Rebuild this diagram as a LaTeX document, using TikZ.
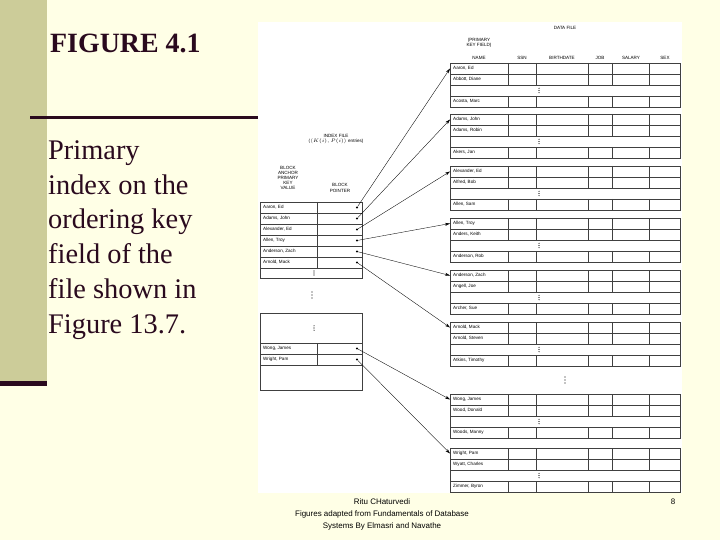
\documentclass[tikz,border=0pt]{standalone}
\usepackage{fontspec}
\setmainfont{Liberation Serif}
\newfontfamily\arial{Liberation Sans}
\usetikzlibrary{arrows.meta}
\definecolor{bgy}{HTML}{FFFFE6}
\definecolor{olive}{HTML}{CCCC99}
\definecolor{ink}{HTML}{2A0A1E}
\tikzset{
 cell/.style={anchor=west,inner sep=0pt,font=\arial\fontsize{4.6}{5}\selectfont},
 hdr/.style={inner sep=0pt,align=center,font=\arial\fontsize{4.6}{5.2}\selectfont},
 grid/.style={draw=black!75,line width=0.5pt},
 ptr/.style={-{Stealth[length=5pt,width=3pt]},line width=0.35pt},
 dotp/.style={circle,fill=black,inner sep=0pt,minimum size=2.2pt},
 side/.style={anchor=base west,inner sep=0pt,text=ink,font=\fontsize{28.5}{34}\selectfont},
 foot/.style={inner sep=0pt,font=\arial\fontsize{8}{10}\selectfont,anchor=base}
}
% three dots centred at (#1,#2), spacing #3
\newcommand\vd[3]{\foreach \j in {-1,0,1} \fill (#1,#2+\j*#3) circle (0.55);}
\newcommand\dblock[5]{%
 \draw[grid] (450,#1) rectangle (680,#1+44);
 \foreach \d in {11,22,33} \draw[grid] (450,#1+\d) -- (680,#1+\d);
 \foreach \x in {508,536,588,612,649} {\draw[grid] (\x,#1) -- (\x,#1+22); \draw[grid] (\x,#1+33) -- (\x,#1+44);}
 \coordinate (#2) at (450,#1+5.5);
 \node[cell] (#2a) at (453,#1+5.5) {#3};
 \node[cell] (#2b) at (453,#1+16.5) {#4};
 \node[cell] (#2c) at (453,#1+38.5) {#5};
 \vd{539}{#1+27.5}{2.2}
}
\begin{document}
\begin{tikzpicture}[x=1bp,y=-1bp]
\useasboundingbox (0,0) rectangle (720,540);
\fill[bgy] (0,0) rectangle (720,540);
\fill[olive] (0,0) rectangle (47,382);
\fill[ink] (0,381) rectangle (47,386);
\fill[ink] (30,116) rectangle (260,119);
\fill[white] (258,22) rectangle (682,493);
\node[side,font=\bfseries\fontsize{28}{30}\selectfont] (title) at (50,53) {FIGURE 4.1};
\node[side] (l1) at (48,160) {Primary};
\node[side] (l2) at (48,195) {index on the};
\node[side] (l3) at (48,229) {ordering key};
\node[side] (l4) at (48,264) {field of the};
\node[side] (l5) at (48,298) {file shown in};
\node[side] (l6) at (48,333) {Figure 13.7.};
% data file headers
\node[hdr] (df) at (565,28) {DATA FILE};
\node[hdr] (pk) at (479,43) {(PRIMARY\\KEY FIELD)};
\node[hdr] (h1) at (479,58) {NAME};
\node[hdr] (h2) at (522,58) {SSN};
\node[hdr] (h3) at (562,58) {BIRTHDATE};
\node[hdr] (h4) at (600,58) {JOB};
\node[hdr] (h5) at (631,58) {SALARY};
\node[hdr] (h6) at (665,58) {SEX};
\dblock{63}{d1}{Aaron, Ed}{Abbott, Diane}{Acosta, Marc}
\dblock{114}{d2}{Adams, John}{Adams, Robin}{Akers, Jan}
\dblock{166}{d3}{Alexander, Ed}{Alfred, Bob}{Allen, Sam}
\dblock{218}{d4}{Allen, Troy}{Anders, Keith}{Anderson, Rob}
\dblock{270}{d5}{Anderson, Zach}{Angell, Joe}{Archer, Sue}
\dblock{322}{d6}{Arnold, Mack}{Arnold, Steven}{Atkins, Timothy}
\dblock{394}{d7}{Wong, James}{Wood, Donald}{Woods, Manny}
\dblock{448}{d8}{Wright, Pam}{Wyatt, Charles}{Zimmer, Byron}
\vd{565}{380}{3}
% index file
\node[hdr] (if) at (336,139) {INDEX FILE\\($\langle K(i), P(i)\rangle$ entries)};
\node[hdr] (ba) at (288,178) {BLOCK\\ANCHOR\\PRIMARY\\KEY\\VALUE};
\node[hdr] (bp) at (340,188) {BLOCK\\POINTER};
\draw[grid] (260,202) rectangle (362,278);
\foreach \y in {213,224,235,246,257,268} \draw[grid] (260,\y) -- (362,\y);
\draw[grid] (317,202) -- (317,268);
\vd{314}{273}{2}
\node[cell] (i1) at (263,207.5) {Aaron, Ed};
\node[cell] (i2) at (263,218.5) {Adams, John};
\node[cell] (i3) at (263,229.5) {Alexander, Ed};
\node[cell] (i4) at (263,240.5) {Allen, Troy};
\node[cell] (i5) at (263,251.5) {Anderson, Zach};
\node[cell] (i6) at (263,262.5) {Arnold, Mack};
\node[dotp] (p1) at (357,207.5) {};
\node[dotp] (p2) at (357,218.5) {};
\node[dotp] (p3) at (357,229.5) {};
\node[dotp] (p4) at (357,240.5) {};
\node[dotp] (p5) at (357,251.5) {};
\node[dotp] (p6) at (357,262.5) {};
\vd{312}{295}{3}
\draw[grid] (260,313) rectangle (362,390);
\foreach \y in {343,354,365} \draw[grid] (260,\y) -- (362,\y);
\draw[grid] (317,343) -- (317,365);
\vd{314}{328}{2.2}
\node[cell] (i7) at (263,348.5) {Wong, James};
\node[cell] (i8) at (263,359.5) {Wright, Pam};
\node[dotp] (p7) at (357,348.5) {};
\node[dotp] (p8) at (357,359.5) {};
\foreach \k in {1,...,8} \draw[ptr] (p\k) -- (d\k);
% footer
\node[foot] (f1) at (382,504) {Ritu CHaturvedi};
\node[foot] (f2) at (382,516.5) {Figures adapted from Fundamentals of Database};
\node[foot] (f3) at (382,528.5) {Systems By Elmasri and Navathe};
\node[foot] (pg) at (673,504) {8};
\end{tikzpicture}
\end{document}
